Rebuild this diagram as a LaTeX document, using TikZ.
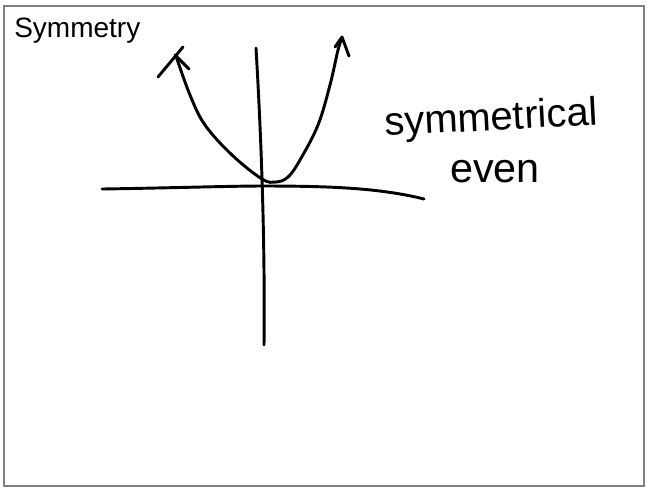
\documentclass[tikz,border=0pt]{standalone}
\usepackage{fontspec}
\setmainfont{Liberation Sans}
\usetikzlibrary{positioning}
\definecolor{frameGray}{RGB}{128,128,128}

\begin{document}
\begin{tikzpicture}[x=0.75pt, y=-0.75pt,
    ink/.style={line width=2.2pt, line cap=round, line join=round},
    title/.style={font=\fontsize{21}{24}\selectfont, inner sep=0pt, anchor=base west},
    hand/.style={inner sep=0pt, anchor=base west}
  ]
  \useasboundingbox (0,0) rectangle (647,487);
  % frame
  \draw[frameGray, line width=1.1pt] (4,6) rectangle (644,486);

  % title
  \node[title] (title) at (14,37) {Symmetry};

  % axes
  \draw[ink] (102,189) .. controls (170,188) and (230,186) .. (263,186)
                      .. controls (330,186) and (380,188) .. (424,199);
  \draw[ink] (256,48) .. controls (262,150) and (265,250) .. (264,345);

  % parabola
  \draw[ink] plot[smooth, tension=0.6] coordinates {(176,56) (190,95) (205,125) (232,155)
      (262,179) (276,182) (288,177) (300,160) (318,125) (330,85) (338,50) (342,38)};
  % arrow ends, drawn by hand
  \draw[ink] (158,77) -- (183,47);
  \draw[ink] (175,55) -- (189,69);
  \draw[ink] (335,47) -- (342,37) -- (349,56);

  % handwritten notes
  \node[hand, rotate=3, font=\fontsize{30}{34}\selectfont] (symm) at (385,136) {symmetrical};
  \node[hand, font=\fontsize{31}{35}\selectfont] (even) at (450,182) {even};
\end{tikzpicture}
\end{document}
